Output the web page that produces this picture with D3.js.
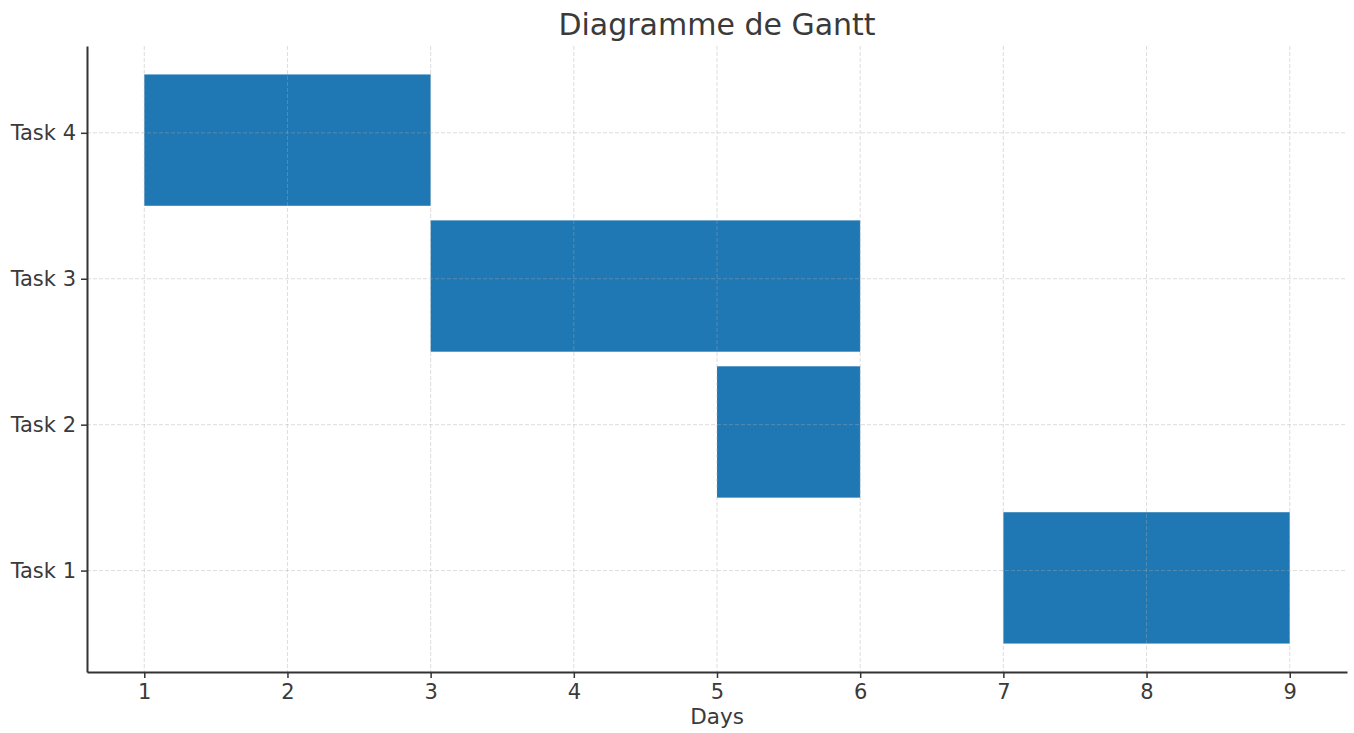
<!DOCTYPE html>
<html>
<head>
<meta charset="utf-8">
<script src="https://cdn.jsdelivr.net/npm/d3@7"></script>
<style>
  body { margin: 0; background: #fff; }
  text { font-family: "DejaVu Sans", sans-serif; fill: #3a3a3a; }
</style>
</head>
<body>
<div id="chart"></div>
<script>
// chart data
const tasks = ["Task 1", "Task 2", "Task 3", "Task 4"];
const starts = [7, 5, 3, 1];
const durations = [2, 1, 3, 2];
const dayTicks = [1, 2, 3, 4, 5, 6, 7, 8, 9];

const w = 1354;
const h = 733;
const margin = { top: 46, right: 7, bottom: 61, left: 87 };

const rows = tasks.map((t, i) => ({ task: t, idx: i + 1, start: starts[i], end: starts[i] + durations[i] }));

const svg = d3.select("#chart")
    .append("svg")
    .attr("width", w)
    .attr("height", h);

const x = d3.scaleLinear()
    .domain([0.6, 9.4])
    .range([margin.left, w - margin.right]);

const y = d3.scaleLinear()
    .domain([0.305, 4.595])
    .range([h - margin.bottom, margin.top]);

// bars (matplotlib style: from idx-0.5 to idx+0.4)
svg.append("g")
    .selectAll("rect")
    .data(rows)
    .enter()
    .append("rect")
    .attr("x", d => x(d.start))
    .attr("y", d => y(d.idx + 0.4))
    .attr("width", d => x(d.end) - x(d.start))
    .attr("height", d => y(d.idx - 0.5) - y(d.idx + 0.4))
    .attr("fill", "#1f77b4");

// grid on top, translucent
const grid = svg.append("g")
    .attr("stroke", "#aaa")
    .attr("stroke-opacity", 0.4)
    .attr("stroke-dasharray", "4,2")
    .attr("stroke-width", 1);

grid.selectAll(".vg")
    .data(dayTicks)
    .enter()
    .append("line")
    .attr("x1", d => x(d)).attr("x2", d => x(d))
    .attr("y1", margin.top).attr("y2", h - margin.bottom);

grid.selectAll(".hg")
    .data(rows)
    .enter()
    .append("line")
    .attr("x1", margin.left).attr("x2", w - margin.right)
    .attr("y1", d => y(d.idx)).attr("y2", d => y(d.idx));

// axes
const xAxis = d3.axisBottom(x)
    .tickValues(dayTicks)
    .tickFormat(d3.format("d"))
    .tickSize(6)
    .tickPadding(6)
    .tickSizeOuter(0);

const yAxis = d3.axisLeft(y)
    .tickValues(rows.map(d => d.idx))
    .tickFormat((d, i) => tasks[i])
    .tickSize(6)
    .tickPadding(5)
    .tickSizeOuter(0);

const gx = svg.append("g")
    .attr("transform", `translate(0, ${h - margin.bottom})`)
    .call(xAxis);

const gy = svg.append("g")
    .attr("transform", `translate(${margin.left}, 0)`)
    .call(yAxis);

[gx, gy].forEach(g => {
    g.select(".domain").attr("stroke", "#333").attr("stroke-width", 2);
    g.selectAll(".tick line").attr("stroke", "#333").attr("stroke-width", 1.5);
    g.selectAll(".tick text")
        .style("font-family", "DejaVu Sans, sans-serif")
        .style("font-size", "21px")
        .attr("fill", "#3a3a3a");
});

// titles
svg.append("text")
    .attr("x", (margin.left + w - margin.right) / 2)
    .attr("y", 35)
    .attr("text-anchor", "middle")
    .style("font-size", "30px")
    .text("Diagramme de Gantt");

svg.append("text")
    .attr("x", (margin.left + w - margin.right) / 2)
    .attr("y", 724)
    .attr("text-anchor", "middle")
    .style("font-size", "21.5px")
    .text("Days");
</script>
</body>
</html>
